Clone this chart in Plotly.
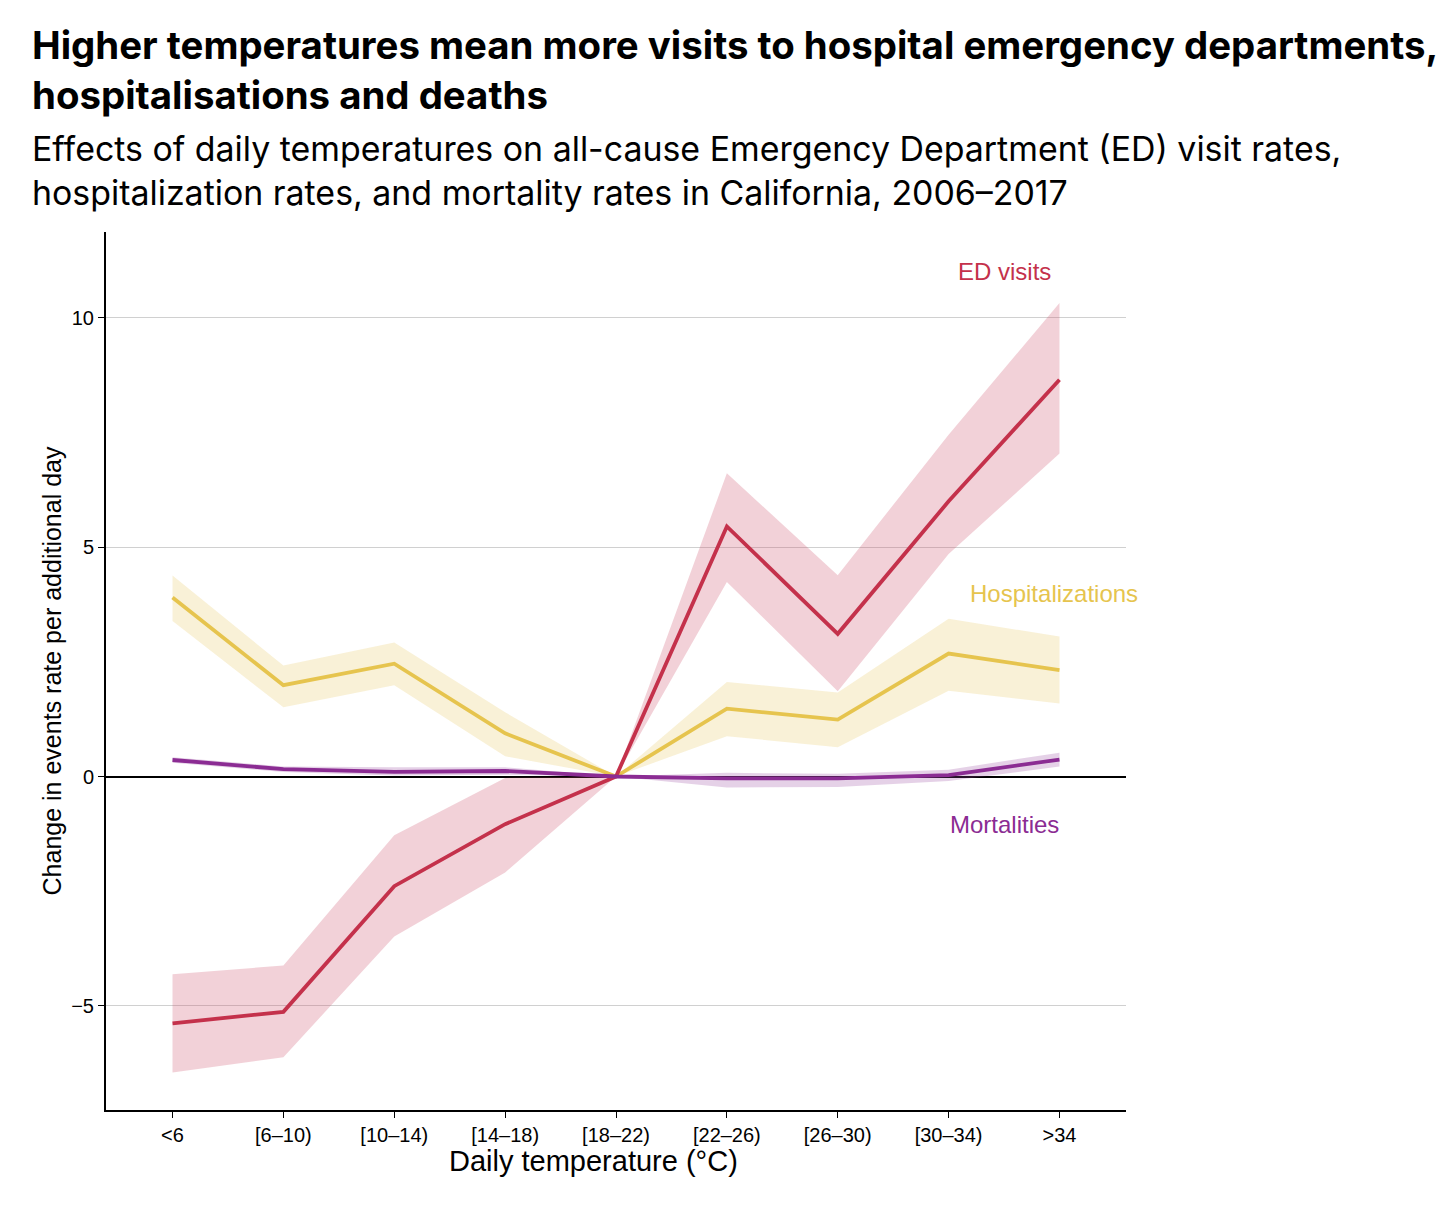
import plotly.graph_objects as go

# temperature bins
categories = ["<6", "[6\u201310)", "[10\u201314)", "[14\u201318)", "[18\u201322)",
              "[22\u201326)", "[26\u201330)", "[30\u201334)", ">34"]

# change in events rate per additional day, with confidence band
ed_visits = [-5.38, -5.13, -2.39, -1.04, 0.0, 5.45, 3.11, 6.0, 8.65]
ed_low = [-6.45, -6.12, -3.49, -2.09, 0.0, 4.24, 1.86, 4.85, 7.04]
ed_high = [-4.31, -4.12, -1.28, -0.03, 0.0, 6.61, 4.39, 7.45, 10.32]

hosp = [3.90, 1.99, 2.46, 0.94, 0.0, 1.48, 1.24, 2.68, 2.32]
hosp_low = [3.39, 1.51, 1.99, 0.44, 0.0, 0.88, 0.64, 1.87, 1.59]
hosp_high = [4.38, 2.42, 2.92, 1.40, 0.0, 2.06, 1.83, 3.44, 3.05]

mort = [0.36, 0.16, 0.10, 0.12, 0.0, -0.04, -0.04, 0.03, 0.37]
mort_low = [0.30, 0.10, 0.02, 0.04, 0.0, -0.24, -0.23, -0.10, 0.22]
mort_high = [0.42, 0.22, 0.20, 0.20, 0.0, 0.08, 0.06, 0.15, 0.52]

y_ticks = [-5, 0, 5, 10]
y_ticktext = ["\u22125", "0", "5", "10"]

x = list(range(len(categories)))

series = [
    ("Hospitalizations", hosp, hosp_low, hosp_high, "#E6C44E", "rgba(234,206,110,0.28)"),
    ("ED visits", ed_visits, ed_low, ed_high, "#C4314B", "rgba(205,70,100,0.25)"),
    ("Mortalities", mort, mort_low, mort_high, "#8B2C93", "rgba(150,70,160,0.25)"),
]

fig = go.Figure()

for name, vals, lo, hi, col, band in series:
    fig.add_trace(go.Scatter(
        x=x + x[::-1], y=hi + lo[::-1], fill="toself", fillcolor=band,
        line=dict(width=0), mode="lines", hoverinfo="skip", showlegend=False))

for name, vals, lo, hi, col, band in series:
    fig.add_trace(go.Scatter(
        x=x, y=vals, mode="lines", name=name,
        line=dict(color=col, width=3.8), showlegend=False))

label_font = "Liberation Sans, Arial, sans-serif"

fig.add_annotation(x=7.5, y=11.0, text="ED visits", showarrow=False,
                   font=dict(family=label_font, size=24, color="#C4314B"))
fig.add_annotation(x=7.95, y=4.0, text="Hospitalizations", showarrow=False,
                   font=dict(family=label_font, size=24, color="#E6C44E"))
fig.add_annotation(x=7.5, y=-1.05, text="Mortalities", showarrow=False,
                   font=dict(family=label_font, size=24, color="#8B2C93"))

# x axis title sits a little left of centre in the original
fig.add_annotation(xref="paper", yref="paper", x=0.4775, y=-0.058,
                   xanchor="center", yanchor="middle", showarrow=False,
                   text="Daily temperature (\u00b0C)",
                   font=dict(family=label_font, size=29, color="#000000"))

# title and subtitle
fig.add_annotation(
    xref="paper", yref="paper", x=-0.075, y=1.242, xanchor="left", yanchor="top",
    align="left", showarrow=False,
    text="<b>Higher temperatures mean more visits to hospital emergency departments,<br>"
         "hospitalisations and deaths</b>",
    font=dict(family="Inter, sans-serif", size=38.4, color="#000000"))
fig.add_annotation(
    xref="paper", yref="paper", x=-0.075, y=1.121, xanchor="left", yanchor="top",
    align="left", showarrow=False,
    text="Effects of daily temperatures on all-cause Emergency Department (ED) visit rates,<br>"
         "hospitalization rates, and mortality rates in California, 2006\u20132017",
    font=dict(family="Inter, sans-serif", size=33.9, color="#000000"))

fig.update_layout(
    width=1456, height=1218,
    margin=dict(l=98, r=338, t=224, b=116),
    plot_bgcolor="white", paper_bgcolor="white",
    font=dict(family=label_font, color="#000000"),
)

fig.update_xaxes(
    range=[-0.6, 8.6], tickvals=x, ticktext=categories,
    showgrid=False, zeroline=False,
    showline=True, linecolor="black", linewidth=2,
    ticks="outside", ticklen=6, tickcolor="black",
    tickfont=dict(size=20),
)
fig.update_yaxes(
    range=[-7.27, 11.87], tickvals=y_ticks, ticktext=y_ticktext,
    showgrid=True, gridcolor="#D0D0D0", gridwidth=1,
    zeroline=True, zerolinecolor="black", zerolinewidth=2,
    showline=True, linecolor="black", linewidth=2,
    ticks="outside", ticklen=6, tickcolor="black",
    tickfont=dict(size=20),
    title=dict(text="Change in events rate per additional day", font=dict(size=25), standoff=2),
)

fig.write_html("out.html")
